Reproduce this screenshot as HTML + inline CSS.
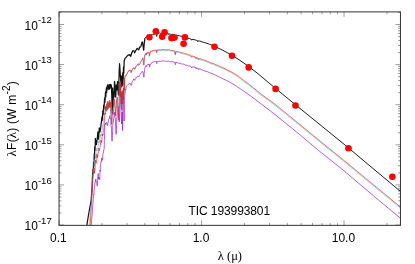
<!DOCTYPE html>
<html><head><meta charset="utf-8"><title>TIC 193993801 SED</title>
<style>html,body{margin:0;padding:0;background:#fff;overflow:hidden}svg{display:block;will-change:transform}text{font-family:"Liberation Sans",sans-serif;fill:#000}.sym{font-family:"Liberation Serif",serif;font-size:13px}</style></head><body>
<svg width="415" height="264" viewBox="0 0 415 264">
<rect x="0" y="0" width="415" height="264" fill="#fff"/>
<defs><clipPath id="c"><rect x="59.05" y="11.9" width="341.4" height="213.75"/></clipPath></defs>
<g clip-path="url(#c)">
<polyline points="86.8,225.5 89.0,212.0 91.2,200.0 92.0,188.0 92.5,176.0 93.0,169.0 93.1,171.3 93.2,172.5 93.4,168.0 93.6,162.0 93.8,165.4 93.9,166.0 94.1,160.5 94.2,154.0 94.3,156.8 94.5,158.5 94.6,153.5 94.7,147.0 94.8,148.7 95.0,150.5 95.2,145.0 95.4,138.3 95.9,142.3 96.4,144.7 97.2,139.4 97.9,131.9 98.2,135.4 98.6,139.2 98.9,133.7 99.3,127.9 99.7,129.7 100.0,131.9 100.7,128.0 101.3,122.0 101.6,120.3 101.9,117.0 102.1,118.5 102.2,120.5 102.5,117.0 102.8,111.0 102.9,114.2 103.1,115.0 103.4,110.7 103.7,105.0 103.8,107.7 104.0,109.0 104.3,103.4 104.6,98.0 104.8,100.0 104.9,102.5 105.2,97.7 105.5,92.0 105.7,94.3 105.8,97.0 106.1,92.5 106.4,88.0 106.6,90.3 106.7,92.5 107.0,88.8 107.3,85.5 107.5,85.5 107.8,84.8 108.0,87.2 108.2,89.0 108.4,88.0 108.6,85.2 108.8,87.8 109.0,89.5 109.2,87.6 109.5,84.6 109.8,87.0 110.0,88.5 110.2,87.0 110.5,84.3 110.8,86.0 111.0,87.0 111.2,86.1 111.4,85.0 111.6,91.5 111.8,96.0 112.0,105.5 112.2,113.0 112.5,101.3 112.7,88.0 113.0,97.6 113.2,106.0 113.5,99.1 113.8,92.0 113.9,94.5 114.1,97.0 114.3,89.3 114.5,81.3 114.8,83.5 115.0,86.0 115.3,92.1 115.7,97.0 116.0,91.2 116.3,85.0 116.5,88.2 116.8,90.0 117.2,86.0 117.5,81.6 117.7,85.6 117.9,88.0 118.2,92.2 118.4,95.0 118.7,87.3 118.9,80.0 119.1,75.0 119.2,70.0 119.4,67.5 119.6,63.7 120.0,70.1 120.4,76.0 120.8,82.2 121.1,87.0 121.4,81.7 121.7,76.0 122.0,80.9 122.2,86.0 122.5,79.9 122.7,73.0 122.9,79.2 123.1,84.5 123.3,75.8 123.5,67.0 123.7,69.9 123.8,73.0 124.0,66.9 124.2,60.5 124.6,60.2 124.9,58.7 127.8,55.3 128.5,54.9 129.1,55.2 129.8,54.6 130.1,55.5 130.5,55.9 130.8,56.3 131.1,55.1 131.3,54.6 131.6,53.0 132.0,52.7 132.3,51.7 132.7,50.8 133.1,51.0 133.6,50.8 134.0,51.0 134.2,51.3 134.5,52.2 134.7,52.8 135.0,52.3 135.3,51.0 135.6,50.5 136.1,50.2 136.7,49.0 137.2,48.4 137.7,48.8 138.1,49.1 138.6,49.9 138.9,49.6 139.2,48.5 139.5,47.2 140.0,47.3 140.6,46.6 141.1,45.9 141.4,44.4 141.7,43.4 142.0,42.2 142.2,42.5 142.4,42.2 142.6,42.5 142.8,44.6 143.0,45.5 143.2,47.0 143.4,47.9 143.5,49.6 143.7,50.2 143.9,47.9 144.0,46.6 144.2,44.0 144.4,42.1 144.7,40.2 144.9,38.0" fill="none" stroke="#000" stroke-width="1.25" stroke-linejoin="round" stroke-opacity="0.92"/>
<polyline points="144.9,38.0 145.4,37.6 145.8,37.3 146.3,36.8 146.9,36.4 147.4,35.9 148.0,35.9 148.6,36.2 149.2,35.4 149.8,35.3 150.6,35.4 151.5,34.6 152.3,34.4 153.4,34.7 154.4,34.3 155.5,33.6 155.7,34.2 156.0,34.6 156.2,34.5 156.4,35.3 156.6,36.1 156.8,36.4 157.0,35.3 157.2,34.6 157.4,33.6 158.2,33.8 158.9,33.0 159.7,32.9 160.5,33.4 161.2,33.3 162.0,32.9 162.7,33.0 163.3,33.0 164.0,33.0 165.5,33.3 166.9,33.4 168.4,33.6 168.6,34.4 168.8,34.2 169.0,34.5 169.2,34.0 169.4,33.9 169.6,33.8 170.4,34.2 171.2,34.5 172.0,34.2 173.0,34.5 173.9,34.7 174.9,34.8 175.1,35.3 175.2,35.9 175.4,36.0 175.6,35.6 175.7,35.5 175.9,35.0 176.6,35.3 177.2,35.5 177.9,35.5 179.6,35.8 181.3,36.3 183.0,36.8 185.1,37.3 187.1,38.2 189.2,38.4 189.8,38.6 190.4,38.9 191.0,38.9 191.2,39.3 191.3,39.6 191.5,40.2 191.7,39.7 191.8,39.8 192.0,39.2 193.0,39.6 194.0,39.6 195.0,39.8 195.8,40.2 196.5,40.4 197.3,40.4 197.5,41.2 197.6,41.6 197.8,41.8 198.0,41.5 198.1,41.4 198.3,40.7 198.9,41.1 199.4,41.0 200.0,41.0 202.3,42.0 204.7,42.6 207.0,43.3 209.5,44.3 212.0,45.2 214.5,46.2 223.0,50.4 232.0,55.3 240.0,60.4 248.7,66.5 258.0,73.7 268.9,82.9 275.8,88.6 285.0,96.2 295.5,104.8 320.0,124.7 344.0,144.2 370.0,166.0 400.5,191.4" fill="none" stroke="#000" stroke-width="0.95" stroke-linejoin="round" stroke-opacity="0.92"/>
<polyline points="91.2,225.5 92.3,212.0 93.2,200.0 93.4,198.6 93.6,195.8 93.8,194.0 93.9,194.3 94.1,190.0 94.2,188.8 94.4,188.7 94.7,186.3 94.9,184.0 95.2,181.7 95.4,182.0 95.7,179.0 96.0,179.3 96.2,182.0 96.5,182.0 96.7,182.7 97.0,184.1 97.2,185.8 97.4,184.1 97.5,183.2 97.7,178.0 97.9,176.2 98.0,175.1 98.2,173.5 98.4,176.4 98.7,178.9 98.9,177.0 99.1,179.5 99.4,179.8 99.6,180.0 99.8,179.7 99.9,172.7 100.1,170.0 100.2,171.3 100.3,167.8 100.4,166.2 100.6,164.6 100.8,163.1 101.0,162.0 101.2,161.1 101.5,161.6 101.7,157.9 101.9,158.4 102.2,160.4 102.4,159.5 102.6,159.0 102.8,155.8 103.0,153.0 103.4,152.9 103.8,149.8 104.2,149.0 104.3,144.2 104.4,140.4 104.5,136.0 104.6,133.9 104.6,129.1 104.7,124.5 105.0,124.4 105.3,124.9 105.6,123.0 106.0,123.6 106.4,122.9 106.8,122.3 107.1,125.2 107.4,125.8 107.7,125.0 107.9,123.3 108.2,122.6 108.4,119.5 108.9,119.3 109.3,119.1 109.8,115.7 110.1,118.5 110.5,118.2 110.8,119.0 111.0,125.1 111.3,126.1 111.5,130.0 111.7,134.4 111.9,139.1 112.1,141.2 112.3,135.7 112.6,131.3 112.8,125.0 113.0,122.5 113.3,122.4 113.5,119.0 113.9,118.3 114.3,115.4 114.7,112.0 114.9,116.5 115.2,117.6 115.4,120.0 115.6,126.1 115.9,130.6 116.1,134.3 116.3,129.9 116.6,124.1 116.8,118.0 117.0,117.0 117.3,114.6 117.5,110.0 117.7,109.4 118.0,108.5 118.2,106.0 118.4,108.7 118.6,113.2 118.8,115.0 119.0,118.4 119.1,121.6 119.3,122.0 119.5,117.5 119.6,110.2 119.8,104.0 120.0,101.9 120.1,100.1 120.3,96.5 120.5,99.9 120.7,104.8 120.9,108.0 121.1,113.3 121.4,118.5 121.6,124.0 121.8,119.7 121.9,117.3 122.1,112.0 122.2,118.0 122.4,124.4 122.5,130.4 122.6,123.3 122.7,116.9 122.8,108.0 122.9,103.7 123.1,100.5 123.2,96.0 123.3,99.1 123.5,102.1 123.6,103.0 123.8,110.3 123.9,116.4 124.1,121.0 124.3,112.8 124.4,104.8 124.6,96.0 124.9,94.0 125.1,92.7 125.4,89.0 125.8,89.5 126.1,87.1 126.5,86.3 127.0,85.7 127.5,85.2 128.0,84.5 128.5,84.2 129.0,84.2 129.5,83.3 130.4,83.5 130.7,84.8 131.0,85.5 131.3,85.4 131.6,85.0 131.8,83.0 132.1,82.2 132.4,81.8 132.7,81.0 133.0,80.2 133.3,80.0 133.5,79.0 133.8,78.8 134.2,79.2 134.5,80.0 134.9,80.4 135.3,79.5 135.6,78.9 136.0,78.0 136.6,77.0 137.2,76.4 137.8,76.0 138.2,76.6 138.6,76.5 139.0,76.6 139.2,76.3 139.3,76.0 139.5,75.0 140.0,74.4 140.5,73.4 141.0,73.0 141.4,72.9 141.9,72.1 142.3,71.2 142.5,71.8 142.8,72.0 143.0,72.0 143.2,73.7 143.3,74.0 143.5,75.0 143.6,76.2 143.8,76.6 143.9,77.3 144.1,75.5 144.2,73.4 144.4,71.0 144.7,69.5 144.9,67.7 145.2,66.5 145.5,66.3 145.7,66.3 146.0,65.6 146.1,66.3 146.3,66.5 146.4,66.8 146.6,66.6 146.7,65.6 146.9,65.2 147.4,64.8 148.0,64.7 148.5,64.4 148.7,64.9 149.0,64.2 149.2,64.3 149.4,65.0 149.5,65.9 149.7,67.0 149.9,65.7 150.0,64.9 150.2,64.0 150.9,63.6 151.6,63.3 152.3,62.2 153.2,62.0 154.1,61.8 155.0,61.5 155.4,61.4 155.9,61.4 156.3,61.4 156.5,62.6 156.6,63.1 156.8,63.6 157.0,62.8 157.1,61.9 157.3,61.3 157.9,61.7 158.4,61.5 159.0,61.1 160.7,61.5 162.3,60.9 164.0,60.9 165.5,61.2 166.9,61.5 168.4,61.1 169.6,61.5 170.8,61.9 172.0,61.6 173.0,61.6 173.9,62.4 174.9,62.0 175.1,62.7 175.2,63.9 175.4,64.7 175.6,63.6 175.7,63.4 175.9,62.2 177.3,62.8 178.6,63.3 180.0,63.1 181.2,63.8 182.4,64.2 183.6,64.1 184.7,64.6 185.9,65.3 187.0,65.2 188.4,65.9 189.7,66.1 191.1,66.6 191.3,67.4 191.4,67.4 191.6,67.8 191.8,67.4 191.9,67.0 192.1,66.9 193.1,67.1 194.0,67.0 195.0,67.2 195.2,67.7 195.5,67.8 195.7,67.5 195.8,67.8 196.0,68.2 196.1,68.7 196.2,68.5 196.4,68.0 196.5,67.8 197.0,68.1 197.6,68.4 198.1,68.3 198.2,68.7 198.4,69.2 198.5,69.5 198.6,69.5 198.8,69.0 198.9,68.6 199.3,68.7 199.6,69.1 200.0,68.9 202.4,70.1 204.9,71.0 207.3,71.6 209.2,72.5 211.1,73.2 213.0,73.9 219.6,77.2 226.0,80.2 232.0,83.4 236.0,85.9 240.6,89.0 250.0,95.5 262.0,104.6 275.0,114.5 300.0,134.8 318.2,150.2 340.0,167.5 378.8,200.3 400.5,218.2" fill="none" stroke="#9400d3" stroke-width="0.8" stroke-linejoin="round" stroke-opacity="0.8"/>
<polyline points="89.2,225.8 90.4,212.3 91.4,200.3 92.2,186.3 92.8,174.3 93.1,174.2 93.3,172.7 93.3,168.3 93.7,171.9 94.0,173.5 94.1,171.3 94.2,170.0 94.2,167.1 93.9,160.3 94.2,160.6 94.7,163.4 95.0,163.3 95.3,163.4 95.2,159.2 95.1,154.3 95.6,158.2 95.6,155.9 95.9,157.3 96.2,155.4 96.3,151.5 96.5,148.3 96.9,150.3 97.2,151.1 97.4,150.3 97.5,147.9 97.8,147.0 98.1,145.3 98.4,143.9 98.6,144.7 99.0,140.3 99.1,143.1 99.4,141.5 99.5,142.3 99.8,141.9 100.3,136.7 100.7,134.3 100.8,136.2 101.0,134.7 101.2,135.3 101.9,130.2 102.3,129.0 103.1,122.3 103.5,119.3 103.9,116.4 104.7,113.8 104.8,114.8 104.9,112.8 105.1,108.8 105.2,108.4 105.3,110.0 105.5,106.7 105.6,109.5 105.8,111.7 106.0,111.8 106.1,109.3 106.3,109.2 106.5,104.2 106.6,107.9 106.8,110.8 107.0,110.2 107.1,109.7 107.3,104.9 107.5,101.8 107.6,104.8 107.8,106.6 108.0,109.2 108.1,106.9 108.3,104.5 108.5,102.8 108.6,104.9 108.8,107.7 109.0,108.2 109.1,105.1 109.3,104.7 109.5,100.8 109.6,103.3 109.7,105.4 109.9,107.2 109.9,107.6 110.0,105.1 110.1,102.8 110.2,104.4 110.3,106.3 110.4,106.8 110.7,114.3 111.0,118.3 111.4,124.8 111.7,122.3 112.0,114.9 112.2,110.8 112.5,113.6 112.7,115.2 113.0,114.8 113.2,109.2 113.6,106.4 113.9,99.8 114.1,102.2 114.4,104.8 114.7,105.8 114.9,108.8 115.1,112.5 115.4,116.5 115.6,111.8 115.9,109.2 116.2,102.8 116.4,101.1 116.6,100.8 116.9,97.8 117.1,103.2 117.4,106.9 117.7,108.8 117.9,113.1 118.0,117.1 118.2,120.8 118.5,114.8 118.7,108.8 118.9,100.8 119.0,94.5 119.1,90.0 119.2,82.8 119.4,88.8 119.5,93.6 119.6,96.8 119.7,91.4 119.8,88.4 119.9,81.8 120.0,86.8 120.1,92.7 120.2,97.8 120.2,94.3 120.4,90.7 120.5,84.8 120.5,91.7 120.7,99.6 120.8,104.8 120.9,101.5 121.0,97.0 121.2,92.8 121.2,99.0 121.4,104.7 121.5,110.8 121.6,104.2 121.7,98.0 121.9,91.8 122.0,97.1 122.1,102.0 122.2,104.8 122.4,100.0 122.5,95.1 122.7,90.8 122.8,95.6 122.9,98.1 123.0,100.8 123.1,97.2 123.2,92.8 123.4,88.8 123.4,91.8 123.5,94.6 123.6,95.8 123.7,90.7 123.8,85.2 123.9,79.2 124.0,82.8 124.1,88.3 124.2,90.8 124.2,86.4 124.4,83.3 124.5,78.8 124.6,79.1 124.8,77.0 125.0,76.2 125.4,76.7 125.8,76.5 126.2,74.8 126.6,74.8 127.0,74.4 127.5,72.8 128.7,71.0 129.2,71.7 129.7,70.6 130.2,70.8 130.5,71.2 130.8,73.1 131.1,73.0 131.4,71.8 131.7,70.6 132.0,69.8 132.5,69.6 133.0,68.8 133.5,68.2 133.8,69.3 134.1,69.0 134.5,69.5 134.9,69.3 135.4,67.7 135.8,66.8 136.5,66.3 137.2,65.8 137.8,64.3 138.2,65.1 138.6,65.7 139.0,65.3 139.6,64.6 140.2,62.8 140.8,62.0 141.3,61.4 142.0,59.9 142.6,58.5 142.7,59.5 142.9,60.5 143.1,61.8 143.2,63.6 143.4,64.5 143.6,65.5 143.7,64.3 143.9,62.1 144.1,59.8 144.2,58.8 144.5,56.9 144.7,55.0 145.0,55.0 145.3,54.5 145.7,53.8 145.8,54.2 145.9,55.5 146.1,55.4 146.2,54.7 146.5,54.5 146.7,53.4 146.8,53.9 147.0,53.5 147.2,53.0 147.7,52.8 148.2,53.5 148.7,53.0 148.8,54.5 149.1,55.2 149.2,56.5 149.4,55.0 149.7,54.2 149.8,52.8 150.4,52.0 151.0,52.4 151.6,51.4 152.6,51.3 153.6,51.1 154.7,50.8 155.1,50.8 155.5,51.1 156.0,50.8 156.1,52.1 156.3,52.4 156.5,53.2 156.6,52.4 156.8,51.8 157.0,50.6 157.5,50.5 158.1,50.8 158.7,50.5 160.3,50.6 162.0,50.4 163.7,50.2 165.1,50.6 166.6,50.5 168.1,50.5 169.2,50.4 170.5,51.4 171.7,51.0 172.6,51.3 173.6,51.6 174.6,51.8 174.7,53.0 174.9,54.5 175.1,55.2 175.2,54.7 175.4,53.3 175.6,52.0 176.9,52.4 178.3,52.4 179.7,52.9 180.8,53.6 182.1,53.3 183.2,53.8 184.4,54.3 185.5,54.5 186.7,54.9 188.0,55.3 189.4,55.8 190.8,56.2 190.9,56.6 191.1,56.9 191.2,57.5 191.4,57.4 191.6,57.2 191.8,56.6 192.7,57.2 193.7,57.2 194.7,57.6 194.9,58.0 195.1,57.7 195.3,58.0 195.5,58.4 195.6,59.0 195.8,59.1 195.9,59.2 196.0,58.6 196.2,58.2 196.7,58.7 197.2,58.7 197.8,58.8 197.9,59.3 198.0,59.7 198.2,60.0 198.3,60.0 198.4,59.6 198.6,59.0 198.9,59.2 199.3,59.5 199.7,59.4 202.1,60.4 204.5,61.1 207.0,62.0 208.9,62.9 210.8,63.6 212.7,64.2 219.2,67.0 225.7,70.0 231.7,73.0 237.7,76.7 243.2,81.0 248.8,85.2 253.0,88.5 260.8,95.0 274.6,105.0 299.6,125.3 329.9,150.2 339.6,157.9 369.6,182.7 390.6,199.9 400.1,207.8" fill="none" stroke="#56b4e9" stroke-width="0.8" stroke-linejoin="round" stroke-opacity="0.7"/>
<polyline points="90.2,225.5 91.0,212.0 91.7,200.0 92.6,186.0 93.3,174.0 93.6,173.9 93.9,172.4 94.2,168.0 94.4,171.6 94.6,173.2 94.8,171.0 95.0,169.7 95.2,166.8 95.4,160.0 95.7,160.3 96.0,163.1 96.3,163.0 96.5,163.1 96.8,158.9 97.0,154.0 97.2,157.9 97.4,155.6 97.6,157.0 98.0,155.1 98.4,151.2 98.8,148.0 99.1,150.0 99.3,150.8 99.6,150.0 99.8,147.6 100.1,146.7 100.3,145.0 100.5,143.6 100.8,144.4 101.0,140.0 101.2,142.8 101.4,141.2 101.6,142.0 101.9,141.6 102.1,136.4 102.4,134.0 102.6,135.9 102.8,134.4 103.0,135.0 103.4,129.9 103.9,128.7 104.3,122.0 104.5,119.0 104.8,116.1 105.0,113.0 105.1,114.1 105.3,112.0 105.4,108.0 105.5,107.6 105.7,109.2 105.8,105.9 106.0,108.8 106.1,110.9 106.3,111.0 106.5,108.5 106.6,108.5 106.8,103.5 107.0,107.1 107.1,110.0 107.3,109.5 107.5,108.9 107.6,104.2 107.8,101.0 108.0,104.0 108.1,105.9 108.3,108.5 108.5,106.2 108.6,103.7 108.8,102.0 109.0,104.2 109.1,106.9 109.3,107.5 109.5,104.4 109.6,104.0 109.8,100.0 109.9,102.6 110.1,104.7 110.2,106.5 110.3,106.9 110.3,104.4 110.4,102.0 110.5,103.7 110.6,105.5 110.7,106.0 111.0,113.5 111.4,117.6 111.7,124.0 112.0,121.6 112.3,114.2 112.6,110.0 112.8,112.9 113.1,114.5 113.3,114.0 113.6,108.5 113.9,105.6 114.2,99.0 114.5,101.4 114.7,104.0 115.0,105.0 115.2,108.1 115.5,111.7 115.7,115.7 116.0,111.1 116.2,108.5 116.5,102.0 116.7,100.3 117.0,100.1 117.2,97.0 117.5,102.5 117.7,106.1 118.0,108.0 118.2,112.3 118.4,116.4 118.6,120.0 118.8,114.1 119.0,108.0 119.2,100.0 119.3,93.8 119.5,89.3 119.6,82.0 119.7,88.0 119.8,92.8 119.9,96.0 120.0,90.6 120.1,87.7 120.2,81.0 120.3,86.1 120.4,92.0 120.5,97.0 120.6,93.6 120.7,89.9 120.8,84.0 120.9,91.0 121.0,98.9 121.1,104.0 121.2,100.7 121.4,96.2 121.5,92.0 121.6,98.2 121.7,104.0 121.8,110.0 121.9,103.4 122.1,97.2 122.2,91.0 122.3,96.3 122.5,101.3 122.6,104.0 122.7,99.3 122.9,94.4 123.0,90.0 123.1,94.9 123.2,97.3 123.3,100.0 123.4,96.4 123.6,92.1 123.7,88.0 123.8,91.1 123.8,93.9 123.9,95.0 124.0,90.0 124.1,84.4 124.2,78.5 124.3,82.1 124.4,87.5 124.5,90.0 124.6,85.7 124.7,82.5 124.8,78.0 125.0,78.3 125.1,76.2 125.3,75.5 125.7,75.9 126.1,75.8 126.5,74.0 126.9,74.0 127.4,73.6 127.8,72.0 129.0,70.3 129.5,70.9 130.0,69.9 130.5,70.0 130.8,70.4 131.1,72.3 131.4,72.3 131.7,71.0 132.0,69.9 132.3,69.0 132.8,68.9 133.3,68.0 133.8,67.5 134.1,68.6 134.5,68.3 134.8,68.8 135.3,68.6 135.7,66.9 136.2,66.0 136.9,65.5 137.5,65.1 138.2,63.6 138.6,64.3 138.9,64.9 139.3,64.6 139.9,63.9 140.5,62.0 141.1,61.2 141.7,60.6 142.3,59.1 142.9,57.7 143.1,58.8 143.2,59.7 143.4,61.0 143.6,62.8 143.7,63.8 143.9,64.8 144.1,63.5 144.2,61.4 144.4,59.0 144.6,58.1 144.8,56.1 145.0,54.3 145.3,54.2 145.7,53.7 146.0,53.0 146.1,53.5 146.3,54.7 146.4,54.6 146.6,53.9 146.8,53.7 147.0,52.6 147.2,53.1 147.3,52.7 147.5,52.3 148.0,52.1 148.5,52.7 149.0,52.2 149.2,53.7 149.4,54.5 149.6,55.8 149.8,54.2 150.0,53.5 150.2,52.0 150.8,51.2 151.3,51.7 151.9,50.6 152.9,50.6 154.0,50.4 155.0,50.0 155.4,50.1 155.9,50.3 156.3,50.0 156.5,51.4 156.6,51.6 156.8,52.5 157.0,51.7 157.1,51.0 157.3,49.9 157.9,49.8 158.4,50.0 159.0,49.7 160.7,49.8 162.3,49.7 164.0,49.5 165.5,49.9 166.9,49.8 168.4,49.7 169.6,49.7 170.8,50.6 172.0,50.3 173.0,50.6 173.9,50.8 174.9,51.0 175.1,52.2 175.2,53.8 175.4,54.5 175.6,53.9 175.7,52.5 175.9,51.3 177.3,51.6 178.6,51.7 180.0,52.1 181.2,52.8 182.4,52.6 183.6,53.0 184.7,53.5 185.9,53.7 187.0,54.1 188.4,54.6 189.7,55.0 191.1,55.5 191.3,55.8 191.4,56.2 191.6,56.8 191.8,56.6 191.9,56.5 192.1,55.9 193.1,56.4 194.0,56.5 195.0,56.9 195.2,57.2 195.5,56.9 195.7,57.2 195.8,57.6 196.0,58.3 196.1,58.4 196.2,58.4 196.4,57.9 196.5,57.5 197.0,58.0 197.6,57.9 198.1,58.0 198.2,58.5 198.4,58.9 198.5,59.2 198.6,59.3 198.8,58.8 198.9,58.3 199.3,58.5 199.6,58.7 200.0,58.6 202.4,59.6 204.9,60.3 207.3,61.2 209.2,62.1 211.1,62.9 213.0,63.4 219.6,66.2 226.0,69.2 232.0,72.3 238.0,75.9 243.5,80.2 249.2,84.4 253.3,87.7 261.2,94.2 275.0,104.2 300.0,124.6 330.3,149.4 340.0,157.2 370.0,181.9 391.0,199.2 400.5,207.1" fill="none" stroke="#e51e10" stroke-width="0.8" stroke-linejoin="round" stroke-opacity="0.78"/>
</g>
<circle cx="149.4" cy="37.3" r="3.3" fill="#f00"/>
<circle cx="155.8" cy="31.2" r="3.3" fill="#f00"/>
<circle cx="162.2" cy="36.8" r="3.3" fill="#f00"/>
<circle cx="164.6" cy="32.4" r="3.3" fill="#f00"/>
<circle cx="171.5" cy="38.1" r="3.3" fill="#f00"/>
<circle cx="174.5" cy="37.6" r="3.3" fill="#f00"/>
<circle cx="184.9" cy="37.4" r="3.3" fill="#f00"/>
<circle cx="183.6" cy="43.7" r="3.3" fill="#f00"/>
<circle cx="214.5" cy="46.7" r="3.3" fill="#f00"/>
<circle cx="232.0" cy="55.8" r="3.3" fill="#f00"/>
<circle cx="248.7" cy="67.4" r="3.3" fill="#f00"/>
<circle cx="275.6" cy="88.9" r="3.3" fill="#f00"/>
<circle cx="295.5" cy="105.5" r="3.3" fill="#f00"/>
<circle cx="348.5" cy="148.2" r="3.3" fill="#f00"/>
<circle cx="392.4" cy="176.8" r="3.3" fill="#f00"/>
<path d="M59.05 225.35 v-5.0 M59.05 11.9 v5.0 M101.95 225.35 v-2.4 M101.95 11.9 v2.4 M127.04 225.35 v-2.4 M127.04 11.9 v2.4 M144.84 225.35 v-2.4 M144.84 11.9 v2.4 M158.65 225.35 v-2.4 M158.65 11.9 v2.4 M169.94 225.35 v-2.4 M169.94 11.9 v2.4 M179.48 225.35 v-2.4 M179.48 11.9 v2.4 M187.74 225.35 v-2.4 M187.74 11.9 v2.4 M195.03 225.35 v-2.4 M195.03 11.9 v2.4 M201.55 225.35 v-5.0 M201.55 11.9 v5.0 M244.45 225.35 v-2.4 M244.45 11.9 v2.4 M269.54 225.35 v-2.4 M269.54 11.9 v2.4 M287.34 225.35 v-2.4 M287.34 11.9 v2.4 M301.15 225.35 v-2.4 M301.15 11.9 v2.4 M312.44 225.35 v-2.4 M312.44 11.9 v2.4 M321.98 225.35 v-2.4 M321.98 11.9 v2.4 M330.24 225.35 v-2.4 M330.24 11.9 v2.4 M337.53 225.35 v-2.4 M337.53 11.9 v2.4 M344.05 225.35 v-5.0 M344.05 11.9 v5.0 M386.95 225.35 v-2.4 M386.95 11.9 v2.4 M59.05 225.00 h5.0 M400.45 225.00 h-5.0 M59.05 212.93 h2.4 M400.45 212.93 h-2.4 M59.05 205.87 h2.4 M400.45 205.87 h-2.4 M59.05 200.86 h2.4 M400.45 200.86 h-2.4 M59.05 196.97 h2.4 M400.45 196.97 h-2.4 M59.05 193.80 h2.4 M400.45 193.80 h-2.4 M59.05 191.11 h2.4 M400.45 191.11 h-2.4 M59.05 188.79 h2.4 M400.45 188.79 h-2.4 M59.05 186.73 h2.4 M400.45 186.73 h-2.4 M59.05 184.90 h5.0 M400.45 184.90 h-5.0 M59.05 172.83 h2.4 M400.45 172.83 h-2.4 M59.05 165.77 h2.4 M400.45 165.77 h-2.4 M59.05 160.76 h2.4 M400.45 160.76 h-2.4 M59.05 156.87 h2.4 M400.45 156.87 h-2.4 M59.05 153.70 h2.4 M400.45 153.70 h-2.4 M59.05 151.01 h2.4 M400.45 151.01 h-2.4 M59.05 148.69 h2.4 M400.45 148.69 h-2.4 M59.05 146.63 h2.4 M400.45 146.63 h-2.4 M59.05 144.80 h5.0 M400.45 144.80 h-5.0 M59.05 132.73 h2.4 M400.45 132.73 h-2.4 M59.05 125.67 h2.4 M400.45 125.67 h-2.4 M59.05 120.66 h2.4 M400.45 120.66 h-2.4 M59.05 116.77 h2.4 M400.45 116.77 h-2.4 M59.05 113.60 h2.4 M400.45 113.60 h-2.4 M59.05 110.91 h2.4 M400.45 110.91 h-2.4 M59.05 108.59 h2.4 M400.45 108.59 h-2.4 M59.05 106.53 h2.4 M400.45 106.53 h-2.4 M59.05 104.70 h5.0 M400.45 104.70 h-5.0 M59.05 92.63 h2.4 M400.45 92.63 h-2.4 M59.05 85.57 h2.4 M400.45 85.57 h-2.4 M59.05 80.56 h2.4 M400.45 80.56 h-2.4 M59.05 76.67 h2.4 M400.45 76.67 h-2.4 M59.05 73.50 h2.4 M400.45 73.50 h-2.4 M59.05 70.81 h2.4 M400.45 70.81 h-2.4 M59.05 68.49 h2.4 M400.45 68.49 h-2.4 M59.05 66.43 h2.4 M400.45 66.43 h-2.4 M59.05 64.60 h5.0 M400.45 64.60 h-5.0 M59.05 52.53 h2.4 M400.45 52.53 h-2.4 M59.05 45.47 h2.4 M400.45 45.47 h-2.4 M59.05 40.46 h2.4 M400.45 40.46 h-2.4 M59.05 36.57 h2.4 M400.45 36.57 h-2.4 M59.05 33.40 h2.4 M400.45 33.40 h-2.4 M59.05 30.71 h2.4 M400.45 30.71 h-2.4 M59.05 28.39 h2.4 M400.45 28.39 h-2.4 M59.05 26.33 h2.4 M400.45 26.33 h-2.4 M59.05 24.50 h5.0 M400.45 24.50 h-5.0 M59.05 12.43 h2.4 M400.45 12.43 h-2.4" stroke="#3c3c3c" stroke-width="0.8" fill="none" stroke-opacity="0.62"/>
<rect x="59.05" y="11.9" width="341.4" height="213.45" fill="none" stroke="#333" stroke-width="1"/>
<text x="58.4" y="241.5" font-size="12" text-anchor="middle">0.1</text>
<text x="201.0" y="241.5" font-size="12" text-anchor="middle">1.0</text>
<text x="343.4" y="241.5" font-size="12" text-anchor="middle">10.0</text>
<text x="51.8" y="230.2" font-size="12" text-anchor="end">10<tspan font-size="9.6" dy="-6.5">-17</tspan></text>
<text x="51.8" y="190.1" font-size="12" text-anchor="end">10<tspan font-size="9.6" dy="-6.5">-16</tspan></text>
<text x="51.8" y="150.0" font-size="12" text-anchor="end">10<tspan font-size="9.6" dy="-6.5">-15</tspan></text>
<text x="51.8" y="109.9" font-size="12" text-anchor="end">10<tspan font-size="9.6" dy="-6.5">-14</tspan></text>
<text x="51.8" y="69.8" font-size="12" text-anchor="end">10<tspan font-size="9.6" dy="-6.5">-13</tspan></text>
<text x="51.8" y="29.7" font-size="12" text-anchor="end">10<tspan font-size="9.6" dy="-6.5">-12</tspan></text>
<text x="188.6" y="215" font-size="12" letter-spacing="-0.1">TIC 193993801</text>
<text class="sym" style="font-size:12.5px" x="229.9" y="259.6" text-anchor="middle">λ (μ)</text>
<text transform="translate(16.3 118.7) rotate(-90)" font-size="12" text-anchor="middle" letter-spacing="0.2"><tspan class="sym">λ</tspan>F(<tspan class="sym">λ</tspan>) (W m<tspan font-size="10" dy="-6.0">-2</tspan><tspan dy="6.0">)</tspan></text>
</svg></body></html>
